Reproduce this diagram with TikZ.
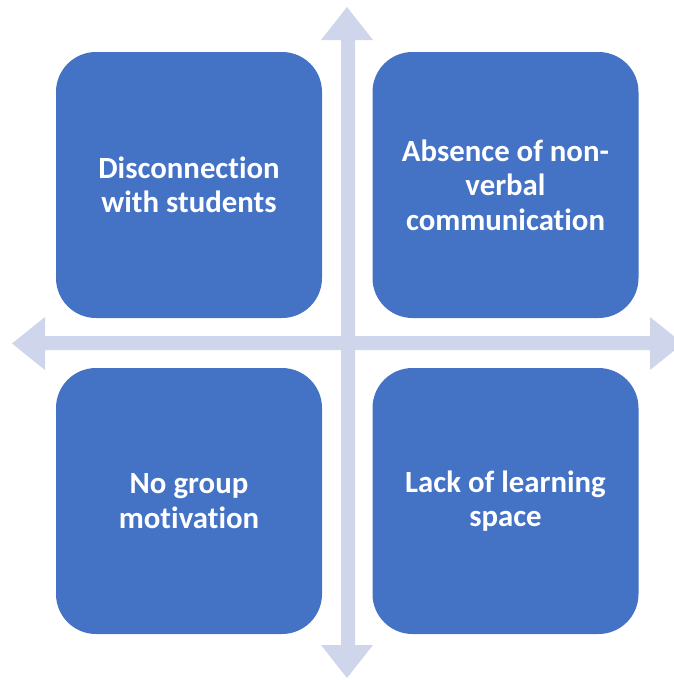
\documentclass[tikz,border=0pt]{standalone}
\usepackage{fontspec}
\setmainfont[Ligatures=CommonOff]{Carlito}
\definecolor{boxblue}{HTML}{4472C4}
\definecolor{arrowgray}{HTML}{CFD5EA}
\begin{document}
\begin{tikzpicture}[x=1pt,y=-1pt,
  quad/.style={fill=boxblue, draw=none, rounded corners=40pt, minimum width=266pt, minimum height=266pt,
    text=white, font=\bfseries\fontsize{30.8}{34.5}\selectfont, align=center, inner sep=0pt},
  arr/.style={fill=arrowgray, draw=none}]
\useasboundingbox (0,0) rectangle (673,680);
% vertical arrow
\fill[arr] (341,40) -- (321,40) -- (347,7) -- (373,40) -- (355,40) -- (355,645) -- (373,645) -- (347,678) -- (321,645) -- (341,645) -- cycle;
% horizontal arrow
\fill[arr] (45,336) -- (45,317) -- (12,343.5) -- (45,370) -- (45,350) -- (650,350) -- (650,370) -- (683,343.5) -- (650,317) -- (650,336) -- cycle;
\node[quad] (tl) at (189,185) {Disconnection\\with students};
\node[quad] (tr) at (505.5,185) {Absence of non-\\verbal\\communication};
\node[quad] (bl) at (189,501) {No group\\motivation};
\node[quad] (br) at (505.5,501) {Lack of learning\\space};
\end{tikzpicture}
\end{document}
